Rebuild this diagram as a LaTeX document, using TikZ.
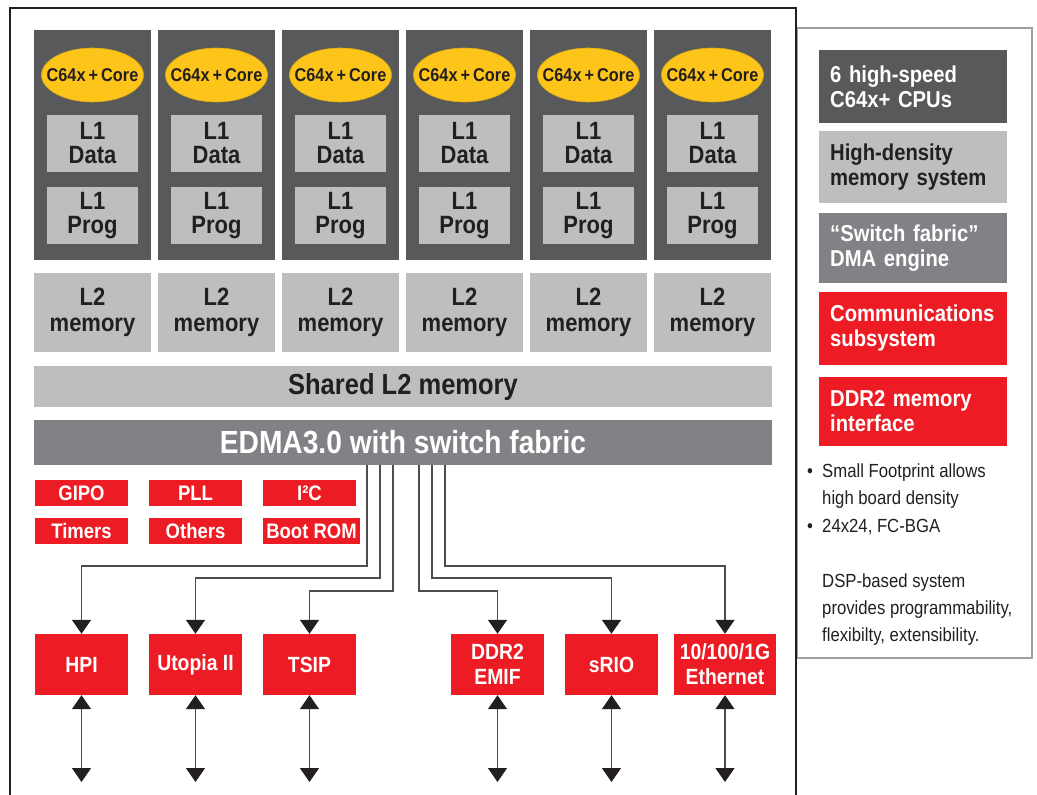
\documentclass[tikz,border=0pt]{standalone}
\usepackage{fontspec}
\setmainfont{Liberation Sans}[FakeStretch=0.88]
\usetikzlibrary{arrows.meta, shapes.geometric, calc}

\definecolor{cpugray}{HTML}{58595B}
\definecolor{memgray}{HTML}{BCBEC0}
\definecolor{dmagray}{HTML}{808285}
\definecolor{tired}{HTML}{ED1C24}
\definecolor{coreyellow}{HTML}{FDC41A}
\definecolor{inkblack}{HTML}{231F20}
\definecolor{linkgray}{HTML}{4D4D4F}

\tikzset{
  cpu/.style={fill=cpugray, minimum width=117pt, minimum height=230pt, inner sep=0},
  core/.style={ellipse, fill=coreyellow, draw=coreyellow!85!black, line width=0.6pt, minimum width=102pt, minimum height=54pt, inner sep=0},
  corelabel/.style={inner sep=0, text=inkblack, font=\bfseries\fontsize{18.5}{20}\selectfont},
  lone/.style={fill=memgray, minimum width=91pt, minimum height=57pt, inner sep=0, align=center, text=inkblack, font=\bfseries\fontsize{25}{24}\selectfont},
  ltwo/.style={fill=memgray, minimum width=117pt, minimum height=79pt, inner sep=0, align=center, text=inkblack, font=\bfseries\fontsize{25}{26}\selectfont},
  bar/.style={minimum width=738pt, inner sep=0},
  io/.style={fill=tired, text=white, minimum width=93pt, minimum height=26pt, inner sep=0, font=\bfseries\fontsize{21}{22}\selectfont},
  port/.style={fill=tired, text=white, minimum width=93pt, minimum height=61pt, inner sep=0, align=center, font=\bfseries\fontsize{22}{25}\selectfont},
  key/.style={anchor=west, inner xsep=11pt, inner ysep=0, text width=166pt, align=left, font=\bfseries\fontsize{23}{25}\selectfont},
  link/.style={draw=linkgray, line width=1.4pt, -{Triangle[width=19pt,length=14pt,color=inkblack]}},
  pin/.style={draw=linkgray, line width=1.4pt, {Triangle[width=19pt,length=14pt,color=inkblack]}-{Triangle[width=19pt,length=14pt,color=inkblack]}},
  note/.style={anchor=base west, inner sep=0, text=inkblack, font=\fontsize{19}{27}\selectfont}
}

\begin{document}
\begin{tikzpicture}[x=1pt, y=-1pt]
        \useasboundingbox (0,0) rectangle (1037,795);

        % six cores with their memories
        \foreach \i in {0,...,5}{
            \node[cpu] (cpu\i) at ({92.5+124*\i},145) {};
            \node[core, label={[corelabel]center:C64x\,+\,Core}] (core\i) at ({92.5+124*\i},75) {};
            \node[lone] (data\i) at ({92.5+124*\i},143.5) {L1\\Data};
            \node[lone] (prog\i) at ({92.5+124*\i},215.5) {L1\\Prog};
            \node[ltwo] (ltwo\i) at ({92.5+124*\i},312.5) {L2\\memory};
        }

        \node[bar, fill=memgray, minimum height=41pt, text=inkblack, font=\bfseries\fontsize{29}{30}\selectfont] (shared) at (403,386.5) {Shared L2 memory};
        \node[bar, fill=dmagray, minimum height=45pt, text=white, font=\bfseries\fontsize{32}{34}\selectfont] (edma) at (403,442.5) {EDMA3.0 with switch fabric};

        % peripherals
        \node[io] (gipo) at (81.5,493) {GIPO};
        \node[io] (timers) at (81.5,531) {Timers};
        \node[io] (pll) at (195.5,493) {PLL};
        \node[io] (others) at (195.5,531) {Others};
        \node[io] (iic) at (309.5,493) {I²C};
        \node[io, minimum width=97pt] (bootrom) at (311.5,531) {Boot ROM};

        \node[port] (hpi) at (81.5,664.5) {HPI};
        \node[port] (utopia) at (195.5,664.5) {Utopia II};
        \node[port] (tsip) at (309.5,664.5) {TSIP};
        \node[port] (emif) at (497.5,664.5) {DDR2\\EMIF};
        \node[port] (srio) at (611.5,664.5) {sRIO};
        \node[port, minimum width=102pt] (enet) at (725,664.5) {10/100/1G\\Ethernet};

        % switch fabric taps
        \path (edma.south) ++(-36,0) coordinate (tap1)
              (edma.south) ++(-23,0) coordinate (tap2)
              (edma.south) ++(-10,0) coordinate (tap3)
              (edma.south) ++(16,0) coordinate (tap4)
              (edma.south) ++(29,0) coordinate (tap5)
              (edma.south) ++(42,0) coordinate (tap6);
        \coordinate (lvlA) at (0,566);
        \coordinate (lvlB) at (0,578);
        \coordinate (lvlC) at (0,591);
        \coordinate (ioend) at (0,782);

        \draw[link] (tap1) |- (hpi.north |- lvlA) -- (hpi.north);
        \draw[link] (tap2) |- (utopia.north |- lvlB) -- (utopia.north);
        \draw[link] (tap3) |- (tsip.north |- lvlC) -- (tsip.north);
        \draw[link] (tap4) |- (emif.north |- lvlC) -- (emif.north);
        \draw[link] (tap5) |- (srio.north |- lvlB) -- (srio.north);
        \draw[link] (tap6) |- (enet.north |- lvlA) -- (enet.north);

        \draw[pin] (hpi.south) -- (hpi.south |- ioend);
        \draw[pin] (utopia.south) -- (utopia.south |- ioend);
        \draw[pin] (tsip.south) -- (tsip.south |- ioend);
        \draw[pin] (emif.south) -- (emif.south |- ioend);
        \draw[pin] (srio.south) -- (srio.south |- ioend);
        \draw[pin] (enet.south) -- (enet.south |- ioend);

        % legend
        \draw[draw=gray!75, line width=1.5pt] (797,28) rectangle (1032,658);
        \node[key, fill=cpugray, text=white, minimum height=73pt] (kcpu) at (819,86.5) {6 high-speed\\C64x+ CPUs};
        \node[key, fill=memgray, text=inkblack, minimum height=72pt] (kmem) at (819,167) {High-density\\memory system};
        \node[key, fill=dmagray, text=white, minimum height=70pt] (kdma) at (819,248) {``Switch fabric''\\DMA engine};
        \node[key, fill=tired, text=white, minimum height=73pt] (kcom) at (819,328.5) {Communications\\subsystem};
        \node[key, fill=tired, text=white, minimum height=69pt] (kddr) at (819,411.5) {DDR2 memory\\interface};

        \node[note] (dot1) at (807,477) {•};
        \node[note] (note1) at (822,477) {Small Footprint allows};
        \node[note] (note2) at (822,504) {high board density};
        \node[note] (dot2) at (807,532) {•};
        \node[note] (note3) at (822,532) {24x24, FC-BGA};
        \node[note] (note4) at (822,587) {DSP-based system};
        \node[note] (note5) at (822,614) {provides programmability,};
        \node[note] (note6) at (822,641) {flexibilty, extensibility.};

        \draw[draw=inkblack, line width=2.2pt] (10,800) -- (10,8) -- (796,8) -- (796,800);
    \end{tikzpicture}
\end{document}
